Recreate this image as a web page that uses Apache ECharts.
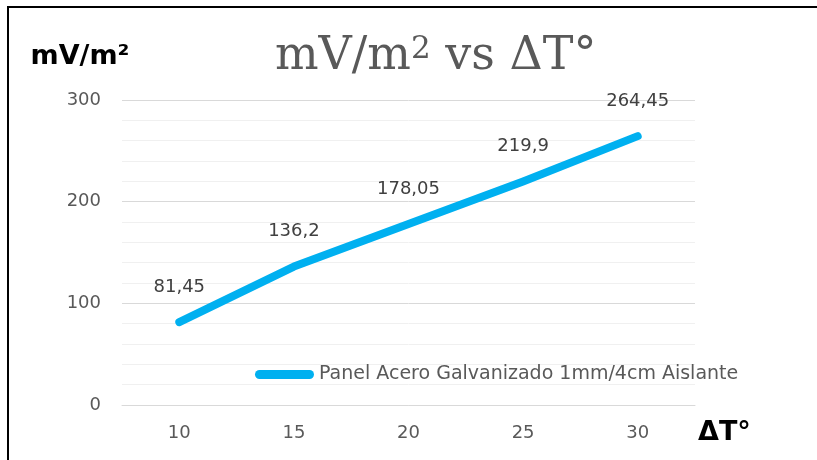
<!DOCTYPE html>
<html>
<head>
<meta charset="utf-8">
<script src="https://cdn.jsdelivr.net/npm/echarts@6/dist/echarts.min.js"></script>
<style>
  html, body { margin: 0; padding: 0; background: #fff; }
  #chart { width: 817px; height: 460px; }
</style>
</head>
<body>
<div id="chart"></div>
<script>
const categories = ['10', '15', '20', '25', '30']
const seriesName = 'Panel Acero Galvanizado 1mm/4cm Aislante'
const values = [81.45, 136.2, 178.05, 219.9, 264.45]

const chart = echarts.init(document.getElementById('chart'))

const gray = '#595959'
const blue = '#00b0f0'
const sans = 'DejaVu Sans'

chart.setOption({
  animation: false,
  title: {
    text: '{a|mV/m}{s|2}{a| vs ΔT°}',
    left: 270,
    top: 29,
    textStyle: {
      fontWeight: 'normal',
      rich: {
        a: { fontFamily: 'DejaVu Serif', fontSize: 46, fontWeight: 'normal', color: gray },
        s: { fontFamily: 'DejaVu Serif', fontSize: 31, fontWeight: 'normal', color: gray, verticalAlign: 'top' }
      }
    }
  },
  graphic: [{
    type: 'rect',
    shape: { x: 8, y: 7, width: 900, height: 600 },
    style: { fill: 'none', stroke: '#000', lineWidth: 2 },
    silent: true
  }],
  legend: {
    left: 250,
    top: 360,
    itemWidth: 59,
    itemHeight: 9,
    textStyle: { fontFamily: sans, fontSize: 19, color: gray },
    itemStyle: { color: blue },
    data: [{ name: seriesName, icon: 'path://M4.5,0H54.5A4.5,4.5,0,0,1,54.5,9H4.5A4.5,4.5,0,0,1,4.5,0Z' }]
  },
  grid: { left: 122, right: 122, top: 100, bottom: 55 },
  xAxis: {
    type: 'category',
    data: categories,
    boundaryGap: true,
    name: 'ΔT°',
    nameLocation: 'end',
    nameGap: 3,
    nameTextStyle: {
      fontFamily: sans, fontSize: 27, fontWeight: 'bold', color: '#000',
      align: 'left', verticalAlign: 'top', padding: [14, 0, 0, 0]
    },
    axisLine: { show: true, lineStyle: { color: '#d9d9d9', width: 1 } },
    axisTick: { show: false },
    axisLabel: { fontFamily: sans, fontSize: 18, color: gray, margin: 19 }
  },
  yAxis: {
    type: 'value',
    min: 0,
    max: 300,
    interval: 100,
    name: 'mV/m²',
    nameLocation: 'end',
    nameGap: 30,
    nameTextStyle: {
      fontFamily: sans, fontSize: 27, fontWeight: 'bold', color: '#000',
      align: 'center', padding: [0, 84, 0, 0]
    },
    axisLine: { show: false },
    axisTick: { show: false },
    axisLabel: { fontFamily: sans, fontSize: 18, color: gray, margin: 21 },
    splitLine: { lineStyle: { color: '#d9d9d9', width: 1 } },
    minorTick: { show: false, splitNumber: 5 },
    minorSplitLine: { show: true, lineStyle: { color: '#f0f0f0', width: 1 } }
  },
  series: [{
    name: seriesName,
    type: 'line',
    data: values,
    symbol: 'circle',
    symbolSize: 4,
    itemStyle: { color: blue },
    lineStyle: { width: 8, cap: 'round', join: 'round', color: blue },
    label: {
      show: true,
      position: 'top',
      distance: 24,
      fontFamily: sans,
      fontSize: 18,
      color: '#404040',
      formatter: p => String(p.value).replace('.', ',')
    }
  }]
})
</script>
</body>
</html>
